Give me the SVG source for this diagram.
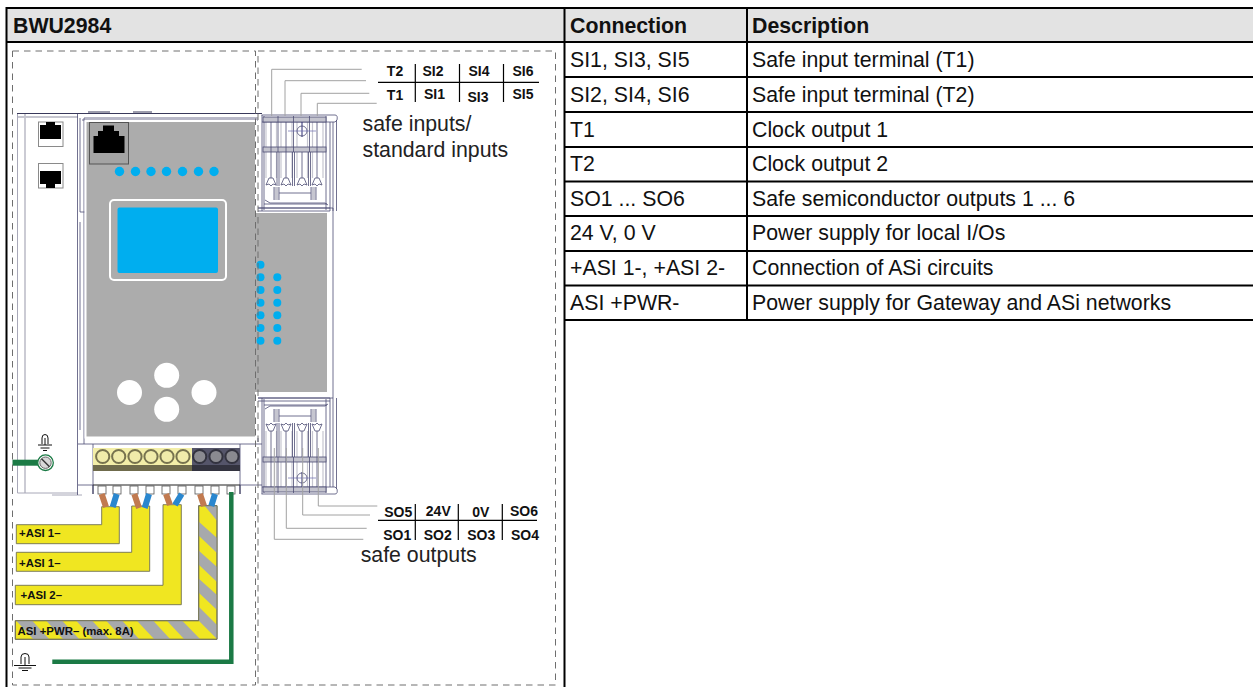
<svg xmlns="http://www.w3.org/2000/svg" xmlns:xlink="http://www.w3.org/1999/xlink" width="1253" height="687" viewBox="0 0 1253 687">
<style>
text{font-family:"Liberation Sans",Arial,sans-serif;fill:#111}
.th{font-size:21.3px;font-weight:700}
.td{font-size:21.3px}
.tl{font-size:14px;font-weight:700;text-anchor:middle}
.cap{font-size:21.3px;fill:#222}
.al{font-size:11.400px;font-weight:700}
.grid{stroke:#000;stroke-width:2;fill:none}
.dash{fill:none;stroke:#6e6e6e;stroke-width:1;stroke-dasharray:6.5 5}
.lead{fill:none;stroke:#a2a2a2;stroke-width:1}
.tick{stroke:#000;stroke-width:1.2;fill:none}
.hs{fill:none;stroke:#4c4c74;stroke-width:.8}
.hl{fill:none;stroke:#c6c6d0;stroke-width:1.8}
.led{fill:#00aeef}
.btn{fill:#fff}
.y{fill:#f0e621;stroke:#6f6f52;stroke-width:.9}
.gnd{fill:none;stroke:#111;stroke-width:1}
.wb{stroke:#c17a50;stroke-width:6;fill:none}
.wu{stroke:#2a87cf;stroke-width:6;fill:none}
.gw{stroke:#1b7a45;fill:none}
</style>
<defs>
<g id="tb">
<path class="hl" d="M266 122V147M276.500 122V147M281 122V147M292 122V147M297 122V147M307.500 122V147M312.500 122V147M323 122V147M266 152V178M276.500 152V178M281 152V178M292 152V178M297 152V178M307.500 152V178M312.500 152V178M323 152V178" style="stroke-width:1.200"/>
<path class="hs" d="M261.500 115H335Q338 115 337 120L335 122H262M262 115V211M264 116V210M326 116V210M330 122V211M333 122V211M336.500 120V211"/>
<rect x="263" y="117" width="63" height="5" fill="#c4c4ce" stroke="#4c4c74" stroke-width=".8"/>
<rect x="263" y="147" width="63" height="5" fill="#c4c4ce" stroke="#4c4c74" stroke-width=".8"/>
<path class="hs" d="M278 116V152M293.500 116V152M309.500 116V152M271 122V178M286 122V178M317 122V178M277 152V186M279 152V186M292.500 152V186M294.500 152V186M308.500 152V186M310.500 152V186"/>
<path d="M302 122V137" stroke="#2a2a70" stroke-width="1" fill="none"/>
<path d="M302 152V178" stroke="#4c4c74" stroke-width=".8" fill="none"/>
<circle cx="302" cy="131" r="5" fill="none" stroke="#4c4c74" stroke-width=".8"/>
<path d="M288 131H316" stroke="#6a6ab0" stroke-width=".7" fill="none"/>
<path class="hs" d="M266 185L269 178H273L276 185L273 184L271 186L269 184ZM281 185L284 178H288L291 185L288 184L286 186L284 184ZM297 185L300 178H304L307 185L304 184L302 186L300 184ZM312 185L315 178H319L322 185L319 184L317 186L315 184Z"/>
<path class="hl" d="M276.500 187V200M313.500 187V200" style="stroke-width:4"/>
<path class="hs" d="M274 187V200M279 187V200M311 187V200M316 187V200M279 193H311M265 200L270 203H325L328 205M264 204H327M258 208H330M258 211H330"/>
</g>
<clipPath id="hatch"><path d="M198.700 505.700H217V639.300H15.300V620.700H198.700Z"/></clipPath>
</defs>

<g id="table">
<rect x="7" y="8" width="1246" height="34" fill="#e3e3e3"/>
<path class="grid" d="M1253 8H6.500V687M6.500 42H1253M564.500 8V687M747 8V320M565 77H1253M565 112H1253M565 147H1253M565 181.500H1253M565 216H1253M565 251H1253M565 285.500H1253M565 320H1253"/>
<text class="th" x="13" y="33">BWU2984</text>
<text class="th" x="570" y="33">Connection</text>
<text class="th" x="752" y="33">Description</text>
<text class="td" x="570" y="66.500">SI1, SI3, SI5</text><text class="td" x="752" y="66.500">Safe input terminal (T1)</text>
<text class="td" x="570" y="101.500">SI2, SI4, SI6</text><text class="td" x="752" y="101.500">Safe input terminal (T2)</text>
<text class="td" x="570" y="136.500">T1</text><text class="td" x="752" y="136.500">Clock output 1</text>
<text class="td" x="570" y="171">T2</text><text class="td" x="752" y="171">Clock output 2</text>
<text class="td" x="570" y="205.500">SO1 ... SO6</text><text class="td" x="752" y="205.500">Safe semiconductor outputs 1 ... 6</text>
<text class="td" x="570" y="240">24 V, 0 V</text><text class="td" x="752" y="240">Power supply for local I/Os</text>
<text class="td" x="570" y="275">+ASI 1-, +ASI 2-</text><text class="td" x="752" y="275">Connection of ASi circuits</text>
<text class="td" x="570" y="309.500">ASI +PWR-</text><text class="td" x="752" y="309.500">Power supply for Gateway and ASi networks</text>
</g>

<g id="device">
<path class="hl" d="M25 114V493M18 117H78"/>
<path d="M17.500 114V493H78M52 495H82" fill="none" stroke="#a8a8b8" stroke-width="1"/>
<path d="M17 113.500H262M88 112H110M133 112H152" fill="none" stroke="#3a3a5c" stroke-width="1.200"/>
<path class="hs" d="M77.500 114V495M80 118V212M80 212H85M84 118H258M84 118V444M78 444H262M93 444V494M240 444V494M82 120H258M78 485H93M240 485H262M258 438V442M80 222V430"/>
<path d="M85.500 121H256V212H328V393H256V437.500H85.500Z" fill="#acacac" stroke="#fff" stroke-width="2"/>
<path class="hs" d="M258 208H333V398H258"/>
<rect x="38.500" y="122" width="24.500" height="24.500" fill="#fff" stroke="#8a8a8a"/>
<path d="M40 125H46V122H55V125H61V139H40Z" fill="#000"/>
<rect x="38.500" y="163.500" width="24.500" height="24.500" fill="#fff" stroke="#8a8a8a"/>
<path d="M40 171H61V184H55V188H46V184H40Z" fill="#000"/>
<rect x="89.500" y="122.500" width="39" height="41.500" fill="#a4a4a4" stroke="#555"/>
<path d="M93.500 136H98V131H103V125.500H114V131H119V136H124.500V153H93.500Z" fill="#000"/>
<g class="led"><circle cx="119.500" cy="171.500" r="4.700"/><circle cx="135.500" cy="171.500" r="4.700"/><circle cx="151" cy="171.500" r="4.700"/><circle cx="166.500" cy="171.500" r="4.700"/><circle cx="182.500" cy="171.500" r="4.700"/><circle cx="198.500" cy="171.500" r="4.700"/><circle cx="214" cy="171.500" r="4.700"/>
<circle cx="260.500" cy="264.700" r="4"/><circle cx="260.500" cy="277.300" r="4"/><circle cx="260.500" cy="290" r="4"/><circle cx="260.500" cy="302.700" r="4"/><circle cx="260.500" cy="315.300" r="4"/><circle cx="260.500" cy="328" r="4"/><circle cx="260.500" cy="340.700" r="4"/>
<circle cx="277.300" cy="277.300" r="4"/><circle cx="277.300" cy="290" r="4"/><circle cx="277.300" cy="302.700" r="4"/><circle cx="277.300" cy="315.300" r="4"/><circle cx="277.300" cy="328" r="4"/><circle cx="277.300" cy="340.700" r="4"/></g>
<rect x="110" y="200" width="116" height="80" rx="4" fill="none" stroke="#fff" stroke-width="2"/>
<rect x="117.500" y="207.500" width="100.500" height="65.500" rx="2" fill="#00aeef"/>
<g class="btn"><circle cx="166.700" cy="375.300" r="12.500"/><circle cx="129.500" cy="392.500" r="12.500"/><circle cx="204" cy="392.500" r="12.500"/><circle cx="166.700" cy="409.300" r="12.500"/></g>
<use xlink:href="#tb" href="#tb"/>
<use xlink:href="#tb" href="#tb" transform="translate(0,609) scale(1,-1)"/>
</g>

<g id="terminals">
<rect x="93" y="448" width="99" height="23" fill="#f3eea8"/>
<rect x="192" y="448" width="48" height="23" fill="#55556a"/>
<rect x="93" y="465" width="99" height="6" fill="#6f6b4c"/>
<rect x="192" y="465" width="48" height="6" fill="#33333f"/>
<g fill="#f0ebaa" stroke="#77734f" stroke-width="2"><circle cx="102.700" cy="456.500" r="6.600"/><circle cx="118.700" cy="456.500" r="6.600"/><circle cx="135" cy="456.500" r="6.600"/><circle cx="151" cy="456.500" r="6.600"/><circle cx="167" cy="456.500" r="6.600"/><circle cx="183" cy="456.500" r="6.600"/></g>
<g fill="#8a8a90" stroke="#33333f" stroke-width="2"><circle cx="199.700" cy="456.500" r="6.600"/><circle cx="216" cy="456.500" r="6.600"/><circle cx="232" cy="456.500" r="6.600"/></g>
<path d="M93 485H240" stroke="#222" stroke-width="1.200" fill="none"/>
<path d="M93 485V494M240 485V494" stroke="#3a3a5c" fill="none"/>
<g fill="#fff" stroke="#555" stroke-width=".8"><rect x="98" y="486" width="8" height="8"/><rect x="113" y="486" width="8" height="8"/><rect x="130" y="486" width="8" height="8"/><rect x="146" y="486" width="8" height="8"/><rect x="162" y="486" width="8" height="8"/><rect x="178" y="486" width="8" height="8"/><rect x="195" y="486" width="8" height="8"/><rect x="211" y="486" width="8" height="8"/><rect x="227" y="486" width="8" height="8"/></g>
</g>

<g id="bus-asi-1a"><path class="y" d="M101.700 506.700H119.300V543.700H16.300V524.700H101.700Z"/><text class="al" x="19" y="537">+ASI 1–</text></g>
<g id="bus-asi-1b"><path class="y" d="M131.700 506H149.700V571.300H16.300V552.300H131.700Z"/><text class="al" x="19" y="566.500">+ASI 1–</text></g>
<g id="bus-asi-2"><path class="y" d="M163 504.700H181.300V604.700H15.300V585.300H163Z"/><text class="al" x="20.500" y="599">+ASI 2–</text></g>
<g id="bus-pwr">
<path class="y" d="M198.700 505.700H217V639.300H15.300V620.700H198.700Z"/>
<g clip-path="url(#hatch)"><path fill="#a7a9ac" d="M204 505H218V522ZM198 521L218 539V554L198 535ZM198 550L218 568V583L198 564ZM198 578L218 596V611L198 592ZM198 606L218 626V640L198 620Z"/>
<path fill="#a7a9ac" d="M166.700 620.500L185 640H201L182 620.500ZM136.700 620.500L155 640H171L153 620.500ZM106 620.500L124 640H140L122 620.500ZM76 620.500L94 640H110L92 620.500ZM46 620.500L64 640H80L62 620.500ZM16 620.500L34 640H50L32 620.500Z"/></g>
<path class="y" style="fill:none" d="M198.700 505.700H217V639.300H15.300V620.700H198.700Z"/>
<text class="al" x="17.500" y="635">ASI +PWR– (max. 8A)</text>
</g>

<g id="connectors">
<path class="wb" d="M101.700 494L106 507M134.300 494L139 508M166 494L170 505M200 494L204 506"/>
<path class="wu" d="M116.700 494L112.700 507M149 494L144.700 508M181.700 494L175 505M215 494L211.300 506"/>
<path class="gw" stroke-width="4.500" d="M231.300 492V661.800H52.300"/>
<path class="gw" stroke-width="6" d="M12.500 462.700H38"/>
<path class="lead" d="M361.700 69.300H271.700V116M366 80.700H285V116M369.300 93.300H301V116M376.700 103.300H317.300V116"/>
<path class="lead" d="M377.300 506H318.300V448M370 515H302.700V448M366.700 528.300H286.300V448M363.300 539.300H274.300V448"/>
</g>

<g id="earth-screw">
<path class="gnd" d="M42 444V438Q42 434.500 45 434.500T48 438V444M45 438V445M38 445H52M40.500 448H49.500M43 450.500H47"/>
<circle cx="45.500" cy="462.700" r="7.800" fill="#fff" stroke="#1b7a45" stroke-width="1.300"/>
<circle cx="45.500" cy="462.700" r="5.700" fill="#d8d8d8" stroke="#666"/>
<path d="M41.500 458.700L49.500 466.700" stroke="#333" stroke-width="1.400" fill="none"/>
</g>
<g id="earth-bus"><path class="gnd" d="M21 664V657Q21 653.500 25 653.500T29 657V664M25 657V665.500M14 665.500H36M18.500 668H31.500M22 670.500H28"/></g>

<g id="frames">
<path class="dash" d="M12.500 51H255.500V685H12.500Z"/>
<path class="dash" d="M258 51H555.500V685H258Z"/>
</g>

<g id="input-labels">
<path class="tick" d="M378 82.300H539M415.300 64V102M459.500 64V102M503.500 64V102"/>
<text class="tl" x="395" y="75.700">T2</text><text class="tl" x="433" y="75.700">SI2</text><text class="tl" x="479" y="75.700">SI4</text><text class="tl" x="523" y="75.700">SI6</text>
<text class="tl" x="395" y="100">T1</text><text class="tl" x="434.500" y="99">SI1</text><text class="tl" x="478" y="101.500">SI3</text><text class="tl" x="523" y="99">SI5</text>
<text class="cap" x="362.500" y="130.700">safe inputs/</text>
<text class="cap" x="362.500" y="156.700">standard inputs</text>
</g>
<g id="output-labels">
<path class="tick" d="M378 520.300H537M415.300 504V540M458.300 504V540M502.300 504V540"/>
<text class="tl" x="398.300" y="516.700">SO5</text><text class="tl" x="438.300" y="516">24V</text><text class="tl" x="480.700" y="517">0V</text><text class="tl" x="524" y="516">SO6</text>
<text class="tl" x="397.300" y="540">SO1</text><text class="tl" x="437.700" y="540">SO2</text><text class="tl" x="481.300" y="540">SO3</text><text class="tl" x="525" y="540">SO4</text>
<text class="cap" x="360.700" y="562.300">safe outputs</text>
</g>
</svg>
